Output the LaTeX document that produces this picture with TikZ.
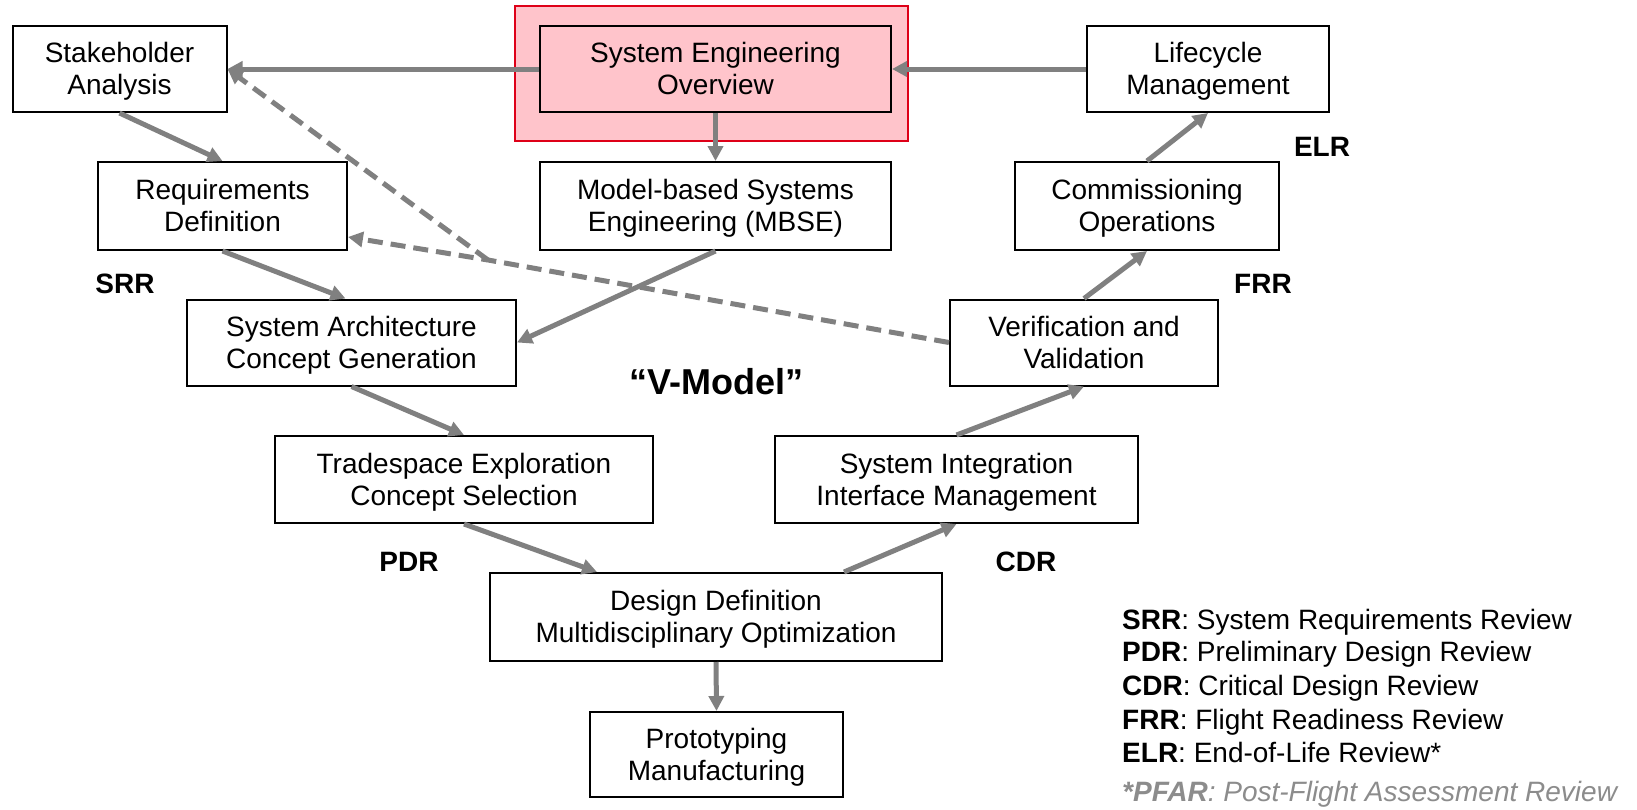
\documentclass[tikz,border=0pt]{standalone}
\usepackage{fontspec}
\setmainfont{Liberation Sans}
\usetikzlibrary{arrows.meta,calc}
\definecolor{linkgray}{RGB}{128,128,128}
\definecolor{hlfill}{RGB}{255,196,203}
\definecolor{hlborder}{RGB}{222,0,24}
\definecolor{notegray}{RGB}{140,140,140}
% two centred lines, set a little below the box centre
\newcommand\stagetext[1]{\raisebox{-3.5pt}[\height][\depth]{\begin{tabular}{@{}c@{}}#1\end{tabular}}}
\begin{document}
\begin{tikzpicture}[x=1pt,y=-1pt,
  every node/.style={font=\fontsize{28}{32}\selectfont},
  stage/.style={draw=black,line width=2pt,fill=white,inner sep=0pt,minimum height=86pt},
  flow/.style={draw=linkgray,line width=5pt,-{Triangle[length=15pt,width=15pt]}},
  feedback/.style={flow,dash pattern=on 15pt off 8pt},
  review/.style={font=\fontsize{28}{32}\selectfont\bfseries},
  legendline/.style={anchor=base west,inner sep=0pt}
  ]
\useasboundingbox[fill=white] (0,0) rectangle (1637,809);

% highlighted frame around the overview
\node[draw=hlborder,line width=1.5pt,fill=hlfill,minimum width=393pt,minimum height=135pt,inner sep=0pt] (hl) at (711.5,73.5) {};

% process stages
\node[stage,minimum width=214pt] (sh) at (119.5,69) {\stagetext{Stakeholder\\Analysis}};
\node[stage,minimum width=351pt,fill=hlfill] (seo) at (715.5,69) {\stagetext{System Engineering\\Overview}};
\node[stage,minimum width=242pt] (lc) at (1208,69) {\stagetext{Lifecycle\\Management}};
\node[stage,minimum width=249pt,minimum height=88pt] (req) at (222.5,206) {\stagetext{Requirements\\Definition}};
\node[stage,minimum width=351pt,minimum height=88pt] (mbse) at (715.5,206) {\stagetext{Model-based Systems\\Engineering (MBSE)}};
\node[stage,minimum width=264pt,minimum height=88pt] (comm) at (1147,206) {\stagetext{Commissioning\\Operations}};
\node[stage,minimum width=329pt] (arch) at (351.5,342.5) {\stagetext{System Architecture\\Concept Generation}};
\node[stage,minimum width=268pt] (vv) at (1084,342.5) {\stagetext{Verification and\\Validation}};
\node[stage,minimum width=378pt,minimum height=87pt] (trade) at (464,479.5) {\stagetext{Tradespace Exploration\\Concept Selection}};
\node[stage,minimum width=363pt,minimum height=87pt] (sysint) at (956.5,479.5) {\stagetext{System Integration\\Interface Management}};
\node[stage,minimum width=452pt,minimum height=88pt] (dd) at (716,617) {\stagetext{Design Definition\\Multidisciplinary Optimization}};
\node[stage,minimum width=253pt,minimum height=85pt] (proto) at (716.5,754.5) {\stagetext{Prototyping\\Manufacturing}};

% review gates
\node[review] (srr) at (125,284) {SRR};
\node[review] (pdr) at (409,562) {PDR};
\node[review] (cdr) at (1026,562) {CDR};
\node[review] (frr) at (1263,284) {FRR};
\node[review] (elr) at (1322,147) {ELR};

\node[font=\fontsize{36}{40}\selectfont\bfseries] (vmodel) at (716,382) {“V-Model”};

% connectors
\draw[flow] (seo.west) -- (sh.east);
\draw[flow] (lc.west) -- (seo.east);
\draw[flow] (seo.south) -- (mbse.north);
\draw[flow] (sh.south) -- (req.north);
\draw[flow] (req.south) -- ([xshift=-6pt]arch.north);
\draw[flow] (mbse.south) -- (arch.east);
\draw[flow] (arch.south) -- (trade.north);
\draw[flow] (trade.south) -- ([xshift=-119pt]dd.north);
\draw[flow] ([xshift=128pt]dd.north) -- (sysint.south);
\draw[flow] (sysint.north) -- (vv.south);
\draw[flow] (vv.north) -- (comm.south);
\draw[flow] (comm.north) -- (lc.south);
\draw[flow] (dd.south) -- (proto.north);

% feedback paths
\coordinate (jn) at (488,260);
\draw[feedback] (vv.west) -- (jn) -- ([yshift=-31pt]req.east);
\draw[feedback] (jn) -- (sh.east);

% legend
\node[legendline] (l1) at (1122,629) {\textbf{SRR}: System Requirements Review};
\node[legendline] (l2) at (1122,661) {\textbf{PDR}: Preliminary Design Review};
\node[legendline] (l3) at (1122,695) {\textbf{CDR}: Critical Design Review};
\node[legendline] (l4) at (1122,729) {\textbf{FRR}: Flight Readiness Review};
\node[legendline] (l5) at (1122,762) {\textbf{ELR}: End-of-Life Review*};
\node[legendline,text=notegray,font=\fontsize{28}{32}\selectfont\itshape] (l6) at (1122,801) {\textbf{*PFAR}: Post-Flight Assessment Review};
\end{tikzpicture}
\end{document}
